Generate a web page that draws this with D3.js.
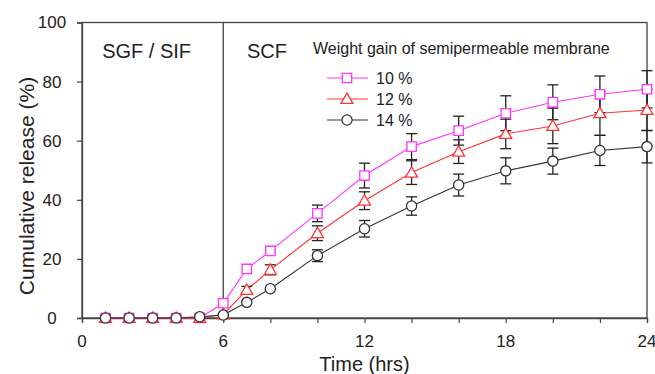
<!DOCTYPE html>
<html>
<head>
<meta charset="utf-8">
<script src="https://cdn.jsdelivr.net/npm/d3@7"></script>
<style>
  body { margin: 0; background: #fff; }
  text { font-family: "Liberation Sans", Arial, Helvetica, sans-serif; fill: #222; }
</style>
</head>
<body>
<div id="chart"></div>
<script>
// sampling times (hrs)
const times = [1, 2, 3, 4, 5, 6, 7, 8, 10, 12, 14, 16, 18, 20, 22, 24];

// cumulative release (%) and error bars for each membrane weight gain
const release10 = [0, 0, 0, 0, 0, 5.0, 16.6, 22.7, 35.4, 48.2, 58.0, 63.4, 69.3, 73.0, 75.7, 77.4];
const err10     = [0, 0, 0, 0, 0, 0, 0, 0.5, 2.8, 4.2, 4.4, 4.9, 5.9, 5.9, 6.2, 6.3];
const release12 = [0, 0, 0, 0, 0, 1.2, 9.5, 16.3, 28.7, 39.7, 49.2, 56.3, 62.3, 65.0, 69.3, 70.4];
const err12     = [0, 0, 0, 0, 0, 0, 1.2, 1.7, 2.5, 3.0, 4.0, 4.0, 5.0, 6.0, 7.5, 7.0];
const release14 = [0, 0, 0, 0, 0.4, 1.0, 5.3, 9.9, 21.1, 30.2, 37.9, 45.0, 49.8, 53.1, 56.7, 58.0];
const err14     = [0, 0, 0, 0, 0, 0, 0, 0, 2.0, 2.8, 3.1, 3.7, 4.4, 4.4, 5.1, 5.5];

const seriesNames = ["10 %", "12 %", "14 %"];
const xTickLabels = [0, 6, 12, 18, 24];
const xMinorTicks = [0, 2, 4, 6, 8, 10, 12, 14, 16, 18, 20, 22, 24];
const yTicks = [0, 20, 40, 60, 80, 100];
const phaseLabels = ["SGF / SIF", "SCF"];
const phaseChange = 6;

const width = 655, height = 374;
const margin = { top: 22.5, right: 8, bottom: 56, left: 82 };

const svg = d3.select("#chart").append("svg")
    .attr("width", width)
    .attr("height", height);

const x = d3.scaleLinear().domain([0, 24]).range([margin.left, width - margin.right]);
const y = d3.scaleLinear().domain([0, 100]).range([height - margin.bottom, margin.top]);

const series = [
    { name: seriesNames[0], values: release10, err: err10, color: "#ff33ff", shape: "square" },
    { name: seriesNames[1], values: release12, err: err12, color: "#ff3333", shape: "triangle" },
    { name: seriesNames[2], values: release14, err: err14, color: "#333333", shape: "circle" }
];

const symbols = {
    square: d3.symbol().type(d3.symbolSquare).size(88),
    triangle: d3.symbol().type(d3.symbolTriangle).size(62),
    circle: d3.symbol().type(d3.symbolCircle).size(82)
};

const axisColor = "#444";

// frame
svg.append("rect")
    .attr("x", x(0)).attr("y", y(100))
    .attr("width", x(24) - x(0)).attr("height", y(0) - y(100))
    .attr("fill", "none").attr("stroke", axisColor).attr("stroke-width", 1.3);

// phase divider
svg.append("line")
    .attr("x1", x(phaseChange)).attr("x2", x(phaseChange))
    .attr("y1", y(0)).attr("y2", y(100))
    .attr("stroke", axisColor).attr("stroke-width", 1.3);

// x axis
const xAxis = svg.append("g")
    .attr("transform", `translate(0, ${y(0)})`)
    .call(d3.axisBottom(x).tickValues(xMinorTicks).tickSize(5).tickFormat(""));
xAxis.select(".domain").attr("stroke", axisColor).attr("stroke-width", 1.3);
xAxis.selectAll(".tick line").attr("stroke", axisColor).attr("stroke-width", 1.2);

svg.selectAll(".xlabel")
    .data(xTickLabels)
    .join("text")
    .attr("class", "xlabel")
    .attr("x", d => x(d))
    .attr("y", y(0) + 29)
    .attr("text-anchor", "middle")
    .style("font-size", "17px")
    .text(d => d);

// y axis
const yAxis = svg.append("g")
    .attr("transform", `translate(${x(0)}, 0)`)
    .call(d3.axisLeft(y).tickValues(yTicks).tickSize(5).tickFormat(""));
yAxis.select(".domain").attr("stroke", axisColor).attr("stroke-width", 1.3);
yAxis.selectAll(".tick line").attr("stroke", axisColor).attr("stroke-width", 1.2);

svg.selectAll(".ylabel")
    .data(yTicks)
    .join("text")
    .attr("class", "ylabel")
    .attr("x", 52)
    .attr("y", d => y(d))
    .attr("dy", "0.35em")
    .attr("text-anchor", "middle")
    .style("font-size", "17px")
    .text(d => d);

// axis titles
svg.append("text")
    .attr("x", (x(0) + x(24)) / 2)
    .attr("y", 371)
    .attr("text-anchor", "middle")
    .style("font-size", "20px")
    .text("Time (hrs)");

svg.append("text")
    .attr("transform", `translate(34, ${186}) rotate(-90)`)
    .attr("text-anchor", "middle")
    .style("font-size", "21px")
    .text("Cumulative release (%)");

// phase labels
svg.append("text")
    .attr("x", x(3) - 6).attr("y", 58)
    .attr("text-anchor", "middle")
    .style("font-size", "20px")
    .text(phaseLabels[0]);
svg.append("text")
    .attr("x", 247).attr("y", 58)
    .style("font-size", "20px")
    .text(phaseLabels[1]);

// lines
const line = d3.line()
    .x((d, i) => x(times[i]))
    .y(d => y(d));

series.forEach(s => {
    svg.append("path")
        .datum(s.values)
        .attr("fill", "none")
        .attr("stroke", s.color)
        .attr("stroke-width", 1.1)
        .attr("d", line);
});

// error bars
series.forEach(s => {
    const bars = times.map((t, i) => ({ t, v: s.values[i], e: s.err[i] })).filter(d => d.e > 0);
    const g = svg.append("g").attr("stroke", "#222").attr("stroke-width", 1.3);
    g.selectAll(".stem").data(bars).join("line")
        .attr("x1", d => x(d.t)).attr("x2", d => x(d.t))
        .attr("y1", d => y(d.v - d.e)).attr("y2", d => y(d.v + d.e));
    g.selectAll(".capTop").data(bars).join("line")
        .attr("x1", d => x(d.t) - 5.5).attr("x2", d => x(d.t) + 5.5)
        .attr("y1", d => y(d.v + d.e)).attr("y2", d => y(d.v + d.e));
    g.selectAll(".capBot").data(bars).join("line")
        .attr("x1", d => x(d.t) - 5.5).attr("x2", d => x(d.t) + 5.5)
        .attr("y1", d => y(d.v - d.e)).attr("y2", d => y(d.v - d.e));
});

// markers
series.forEach(s => {
    svg.append("g").selectAll("path")
        .data(s.values)
        .join("path")
        .attr("transform", (d, i) => `translate(${x(times[i])}, ${y(d) + (s.shape === "triangle" ? 1 : 0)})`)
        .attr("d", symbols[s.shape])
        .attr("fill", "#fff")
        .attr("stroke", s.color)
        .attr("stroke-width", 1.3);
});

// legend
svg.append("text")
    .attr("x", 313).attr("y", 54)
    .style("font-size", "16px")
    .text("Weight gain of semipermeable membrane");

const legend = svg.append("g").selectAll("g")
    .data(series)
    .join("g")
    .attr("transform", (d, i) => `translate(0, ${78 + i * 21})`);

legend.append("line")
    .attr("x1", 327).attr("x2", 368)
    .attr("y1", 0).attr("y2", 0)
    .attr("stroke", d => d.color)
    .attr("stroke-width", 1.1);

legend.append("path")
    .attr("transform", d => `translate(347, ${d.shape === "triangle" ? 1 : 0})`)
    .attr("d", d => symbols[d.shape]())
    .attr("fill", "#fff")
    .attr("stroke", d => d.color)
    .attr("stroke-width", 1.3);

legend.append("text")
    .attr("x", 376).attr("y", 0)
    .attr("dy", "0.35em")
    .style("font-size", "16px")
    .text(d => d.name);
</script>
</body>
</html>
